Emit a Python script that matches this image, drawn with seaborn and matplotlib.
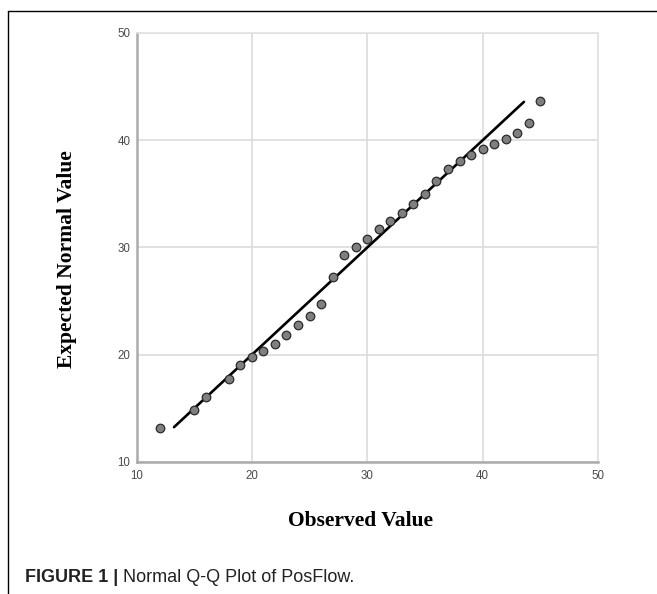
import matplotlib
matplotlib.use("Agg")
import matplotlib.pyplot as plt
import seaborn as sns
import pandas as pd
from matplotlib.lines import Line2D

# ---- data ----
observed = [12, 15, 16, 18, 19, 20, 21, 22, 23, 24, 25, 26, 27, 28, 29, 30,
            31, 32, 33, 34, 35, 36, 37, 38, 39, 40, 41, 42, 43, 44, 45]
expected = [13.17, 14.85, 16.09, 17.77, 19.02, 19.82, 20.35, 21.0, 21.84, 22.77,
            23.61, 24.73, 27.28, 29.27, 30.02, 30.82, 31.70, 32.44, 33.22, 34.03,
            34.99, 36.23, 37.35, 38.09, 38.65, 39.21, 39.65, 40.09, 40.70, 41.58,
            43.63]
line_x = [13.25, 43.58]
line_y = [13.25, 43.58]
ticks = [10, 20, 30, 40, 50]
tick_labels = ["10", "20", "30", "40", "50"]

sns.set_style("white")
W, H, DPI = 657, 594, 100
fig = plt.figure(figsize=(W / DPI, H / DPI), dpi=DPI)
ax = fig.add_axes([136.5 / W, 1 - 462 / H, (598 - 136.5) / W, (462 - 33) / H])

pts = pd.DataFrame({"Observed": observed, "Expected": expected})
ln = pd.DataFrame({"x": line_x, "y": line_y})

sns.lineplot(data=ln, x="x", y="y", ax=ax, color="black", linewidth=1.9,
             zorder=3, sort=False)
sns.scatterplot(data=pts, x="Observed", y="Expected", ax=ax, s=38,
                color="#7f7f7f", edgecolor="#2b2b2b", linewidth=0.9, zorder=4)

ax.set_xlim(10, 50)
ax.set_ylim(10, 50)
ax.set_xticks(ticks)
ax.set_yticks(ticks)
tick_font = dict(family=["Liberation Sans", "DejaVu Sans"], size=8.3)
ax.set_xticklabels(tick_labels, color="#4a4a4a", **tick_font)
ax.set_yticklabels(tick_labels, color="#4a4a4a", **tick_font)
ax.tick_params(axis="both", length=0)
ax.tick_params(axis="x", pad=6.0)
ax.tick_params(axis="y", pad=4.5)
ax.grid(True, color="#dcdcdc", linewidth=1.2)
ax.set_axisbelow(True)
for s in ["top", "right"]:
    ax.spines[s].set_color("#e2e2e2")
    ax.spines[s].set_linewidth(1.2)
for s in ["left", "bottom"]:
    ax.spines[s].set_color("#ababab")
    ax.spines[s].set_linewidth(1.8)
ax.set_xlabel("")
ax.set_ylabel("")

label_font = dict(family=["Liberation Serif", "DejaVu Serif"], size=15.5,
                  weight="bold", color="black")
fig.text(67 / W, 1 - 259 / H, "Expected Normal Value", rotation=90,
         ha="center", va="center", **label_font)
fig.text(360 / W, 1 - 521 / H, "Observed Value", ha="center", va="center",
         **label_font)

cap_font = dict(family=["Liberation Sans", "DejaVu Sans"], size=13,
                color="#222222")
t1 = fig.text(25 / W, 1 - 577 / H, "FIGURE 1 | ", ha="left", va="center",
              weight="bold", **cap_font)
fig.canvas.draw()
bb = t1.get_window_extent()
fig.text(bb.x1 / W, 1 - 577 / H, "Normal Q-Q Plot of PosFlow.", ha="left",
         va="center", **cap_font)

# outer frame (top and left edges)
fig.add_artist(Line2D([8 / W, 1.0], [1 - 10.7 / H, 1 - 10.7 / H],
                      transform=fig.transFigure, color="black", linewidth=1.0))
fig.add_artist(Line2D([8 / W, 8 / W], [1 - 10.7 / H, 0.0],
                      transform=fig.transFigure, color="black", linewidth=1.0))

fig.savefig("out.png", dpi=DPI)
